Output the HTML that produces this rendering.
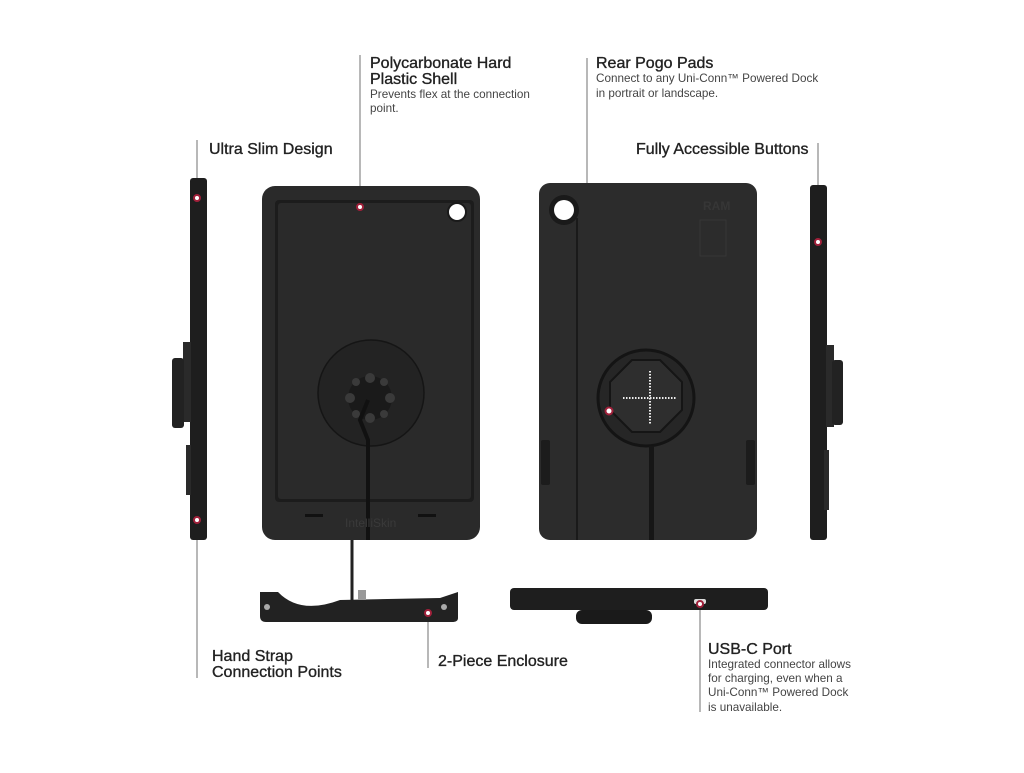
<!DOCTYPE html>
<html><head><meta charset="utf-8"><style>
body{margin:0;background:#fff;width:1024px;height:768px;overflow:hidden;font-family:"Liberation Sans",sans-serif}
</style></head><body>
<svg width="1024" height="768" viewBox="0 0 1024 768" xmlns="http://www.w3.org/2000/svg" font-family="Liberation Sans, sans-serif">
<g stroke="#888" stroke-width="1.2" fill="none">
<line x1="197" y1="140" x2="197" y2="198"/>
<line x1="197" y1="520" x2="197" y2="678"/>
<line x1="360" y1="55" x2="360" y2="207"/>
<polyline points="587,58 587,411 609,411"/>
<line x1="818" y1="143" x2="818" y2="242"/>
<line x1="428" y1="613" x2="428" y2="668"/>
<line x1="700" y1="604" x2="700" y2="712"/>
</g>
<rect x="190" y="178" width="17" height="362" rx="3" fill="#1e1e1e"/>
<rect x="183" y="342" width="8" height="80" fill="#2a2a2a"/>
<rect x="172" y="358" width="12" height="70" rx="3" fill="#222"/>
<rect x="186" y="445" width="5" height="50" fill="#2a2a2a"/>
<rect x="262" y="186" width="218" height="354" rx="13" fill="#2a2a2a"/>
<rect x="275" y="200" width="199" height="302" rx="4" fill="#1c1c1c"/>
<rect x="278" y="203" width="193" height="296" rx="3" fill="#2a2a2a"/>
<circle cx="457" cy="212" r="9" fill="#fff" stroke="#1a1a1a" stroke-width="2"/>
<circle cx="371" cy="393" r="53" fill="#232323" stroke="#151515" stroke-width="1.5"/>
<circle cx="370" cy="398" r="22" fill="#1a1a1a"/>
<g fill="#3a3a3a"><circle cx="370" cy="378" r="5"/><circle cx="350" cy="398" r="5"/><circle cx="390" cy="398" r="5"/><circle cx="370" cy="418" r="5"/><circle cx="356" cy="382" r="4"/><circle cx="384" cy="382" r="4"/><circle cx="384" cy="414" r="4"/><circle cx="356" cy="414" r="4"/></g>
<path d="M368 400 L360 420 L368 440 L368 540" stroke="#111" stroke-width="4" fill="none"/>
<rect x="305" y="514" width="18" height="3" fill="#111"/><rect x="418" y="514" width="18" height="3" fill="#111"/>
<text x="345" y="527" font-size="12" fill="#3a3a3a">IntelliSkin</text>
<rect x="539" y="183" width="218" height="357" rx="11" fill="#2c2c2c"/>
<circle cx="564" cy="210" r="15" fill="#1a1a1a"/><circle cx="564" cy="210" r="10" fill="#fff"/>
<line x1="577" y1="218" x2="577" y2="540" stroke="#1a1a1a" stroke-width="2"/>
<rect x="700" y="220" width="26" height="36" fill="none" stroke="#363636"/>
<text x="703" y="210" font-size="12" font-weight="bold" fill="#363636">RAM</text>
<circle cx="646" cy="398" r="48" fill="#262626" stroke="#141414" stroke-width="3"/>
<polygon points="632,360 660,360 682,382 682,410 660,432 632,432 610,410 610,382" fill="#2e2e2e" stroke="#151515" stroke-width="2"/>
<line x1="650" y1="371" x2="650" y2="425" stroke="#eee" stroke-width="2" stroke-dasharray="1.5 1.5"/>
<line x1="623" y1="398" x2="676" y2="398" stroke="#eee" stroke-width="2" stroke-dasharray="1.5 1.5"/>
<rect x="649" y="446" width="5" height="94" fill="#161616"/>
<rect x="541" y="440" width="9" height="45" rx="2" fill="#1c1c1c"/><rect x="746" y="440" width="9" height="45" rx="2" fill="#1c1c1c"/>
<rect x="810" y="185" width="17" height="355" rx="3" fill="#1e1e1e"/>
<rect x="826" y="345" width="8" height="82" fill="#2a2a2a"/>
<rect x="832" y="360" width="11" height="65" rx="3" fill="#222"/>
<rect x="824" y="450" width="5" height="60" fill="#2a2a2a"/>
<line x1="352" y1="540" x2="352" y2="600" stroke="#222" stroke-width="3"/>
<path d="M260 592 L278 592 Q300 615 340 600 L440 598 L458 592 L458 618 Q458 622 452 622 L266 622 Q260 622 260 616 Z" fill="#222"/>
<circle cx="267" cy="607" r="3" fill="#aaa"/><circle cx="444" cy="607" r="3" fill="#aaa"/>
<rect x="358" y="590" width="8" height="10" fill="#999"/>
<rect x="510" y="588" width="258" height="22" rx="4" fill="#1e1e1e"/>
<rect x="576" y="610" width="76" height="14" rx="6" fill="#1a1a1a"/>
<rect x="694" y="599" width="12" height="5" rx="2" fill="#ddd"/>
<g fill="#fff" stroke="#a0203a" stroke-width="2">
<circle cx="197" cy="198" r="3"/><circle cx="197" cy="520" r="3"/><circle cx="360" cy="207" r="3"/><circle cx="609" cy="411" r="3.5"/><circle cx="818" cy="242" r="3"/><circle cx="428" cy="613" r="3"/><circle cx="700" cy="604" r="3"/>
</g>
<g fill="#222" font-size="16" stroke="#222" stroke-width="0.35">
<text x="370" y="68">Polycarbonate Hard</text><text x="370" y="84">Plastic Shell</text>
<text x="596" y="68">Rear Pogo Pads</text>
<text x="209" y="154">Ultra Slim Design</text>
<text x="636" y="154">Fully Accessible Buttons</text>
<text x="212" y="661">Hand Strap</text><text x="212" y="677">Connection Points</text>
<text x="438" y="666">2-Piece Enclosure</text>
<text x="708" y="654">USB-C Port</text>
</g>
<g fill="#444" font-size="11.7">
<text x="370" y="98">Prevents flex at the connection</text><text x="370" y="112">point.</text>
<text x="596" y="82">Connect to any Uni-Conn™ Powered Dock</text><text x="596" y="97">in portrait or landscape.</text>
<text x="708" y="668">Integrated connector allows</text><text x="708" y="682">for charging, even when a</text><text x="708" y="696">Uni-Conn™ Powered Dock</text><text x="708" y="711">is unavailable.</text>
</g>
</svg>
</body></html>
